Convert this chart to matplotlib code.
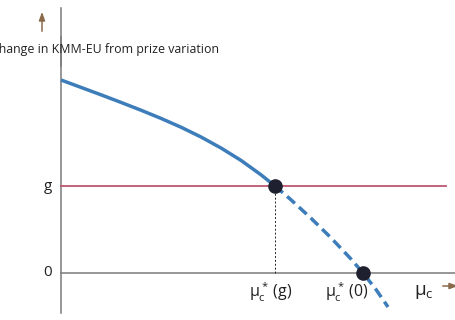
import matplotlib
matplotlib.use("Agg")
import matplotlib.pyplot as plt

plt.rcParams['font.family'] = ['Open Sans', 'DejaVu Sans']
plt.rcParams['mathtext.fontset'] = 'custom'
plt.rcParams['mathtext.rm'] = 'Open Sans'
plt.rcParams['mathtext.it'] = 'Open Sans'
plt.rcParams['mathtext.bf'] = 'Open Sans'

# curve (x = mu_c, y = change in KMM-EU)
curve_x = [0, 20, 40, 60, 80, 100, 120, 140, 160, 180, 200, 214,
           230, 250, 270, 290, 302, 315, 327]
curve_y = [193, 185.6, 178.2, 170.6, 162.8, 154.6, 145.8, 136, 125, 112.6, 98.2, 87,
           73.2, 54.8, 35.2, 14, 0, -16.5, -34]
g_level = 87
mu_g = 214
mu_0 = 302
ylabel = "Change in KMM-EU from prize variation"
ytick_labels = ["g", "0"]
xtick_labels = [r"$μ^*_c\,(g)$", r"$μ^*_c\,(0)$", r"$μ_c$"]

fig = plt.figure(figsize=(4.56, 3.2), dpi=100)
ax = fig.add_axes([0, 0, 1, 1])
ax.set_xlim(-61, 395)
ax.set_ylim(-47, 273)
ax.axis('off')

axis_col = '#7a7a7a'
brown = '#8a6a4a'
blue = '#3d7dba'
txt = '#222222'

# axes lines
ax.plot([0, 0], [-40, 236], color=axis_col, lw=1.1)
ax.plot([0, 0], [207, 265], color=axis_col, lw=1.1)
ax.plot([0, 395], [0, 0], color=axis_col, lw=1.1)

# arrows
ax.annotate('', xy=(-19, 264), xytext=(-19, 239), annotation_clip=False,
            arrowprops=dict(arrowstyle='-|>,head_length=0.5,head_width=0.18',
                            color=brown, lw=1.1))
ax.annotate('', xy=(400, -13), xytext=(379, -13), annotation_clip=False,
            arrowprops=dict(arrowstyle='-|>,head_length=0.5,head_width=0.18',
                            color=brown, lw=1.1))

# g line
ax.plot([0, 385], [g_level, g_level], color='#c0566e', lw=1.3)

# curve: solid before mu_g, dashed after
i = curve_x.index(mu_g)
ax.plot(curve_x[:i + 1], curve_y[:i + 1], color=blue, lw=2.5,
        solid_capstyle='butt', solid_joinstyle='round')
ax.plot(curve_x[i:], curve_y[i:], color=blue, lw=2.5, ls=(0, (3, 1.6)))

# dotted vertical
ax.plot([mu_g, mu_g], [0, g_level], color='#222222', lw=0.7, ls=(0, (2, 2)))

# dots
ax.plot([mu_g, mu_0], [g_level, 0], 'o', color='#1e2030', ms=9.5, zorder=5)

# texts
ax.text(158, 223, ylabel, ha='right', va='center', fontsize=8.9, color=txt)
ax.text(-13, g_level, ytick_labels[0], ha='center', va='center', fontsize=11, color=txt)
ax.text(-13, 0, ytick_labels[1], ha='center', va='center', fontsize=11, color=txt)
ax.text(210, -19, xtick_labels[0], ha='center', va='center', fontsize=11.5, color=txt)
ax.text(286, -19, xtick_labels[1], ha='center', va='center', fontsize=11.5, color=txt)
ax.text(363, -19, xtick_labels[2], ha='center', va='center', fontsize=13.5, color=txt)

fig.savefig('out.png', dpi=100)
